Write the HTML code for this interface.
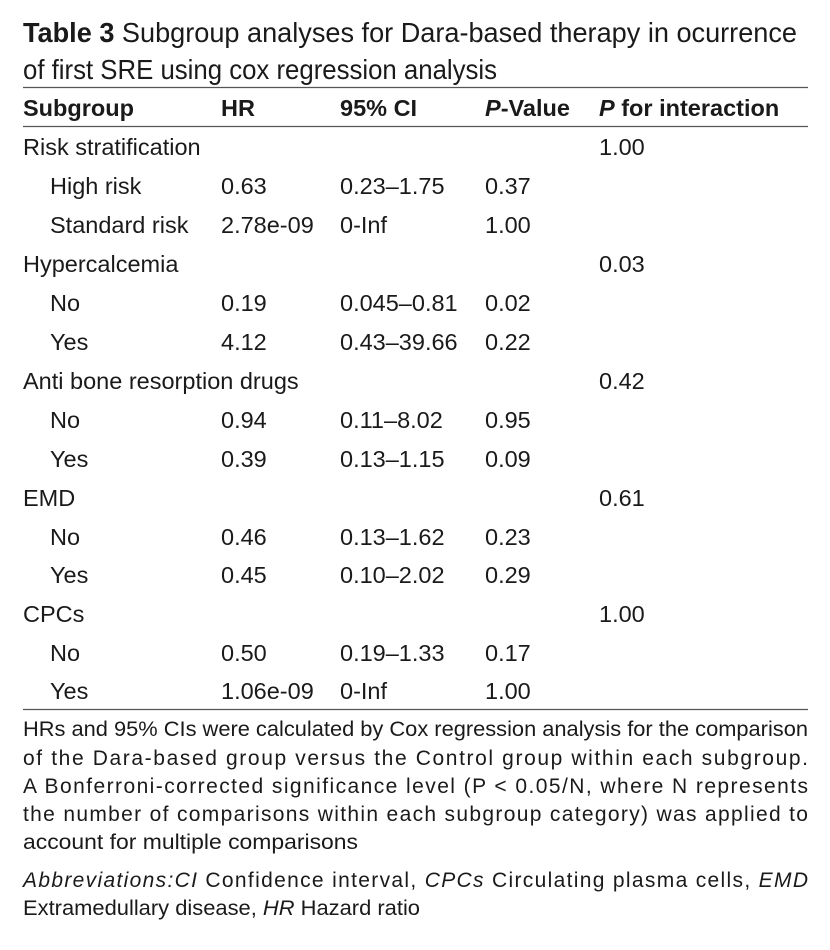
<!DOCTYPE html>
<html><head><meta charset="utf-8"><style>
html,body{margin:0;padding:0;background:#fff;}
svg{display:block;}
text{font-family:"Liberation Sans",sans-serif;fill:#1a1a1a;}
.b{font-weight:bold;}
.r{font-size:23.5px;}
.f{font-size:21px;}
</style></head><body>
<svg width="830" height="950" viewBox="0 0 830 950" xmlns="http://www.w3.org/2000/svg">
<text x="23" y="42" font-size="28" textLength="774" lengthAdjust="spacingAndGlyphs"><tspan class="b">Table 3</tspan>  Subgroup analyses for Dara-based therapy in ocurrence</text>
<text x="23" y="79" font-size="28" textLength="474" lengthAdjust="spacingAndGlyphs">of first SRE using cox regression analysis</text>
<line x1="23" y1="87.5" x2="808" y2="87.5" stroke="#555" stroke-width="1.2"/>
<g class="r b">
<text x="23" y="116">Subgroup</text>
<text x="221" y="116">HR</text>
<text x="340" y="116">95% CI</text>
<text x="485" y="116"><tspan font-style="italic">P</tspan>-Value</text>
<text x="599" y="116"><tspan font-style="italic">P</tspan> for interaction</text>
</g>
<line x1="23" y1="126.5" x2="808" y2="126.5" stroke="#555" stroke-width="1.2"/>
<g class="r">
<text x="23" y="155">Risk stratification</text><text x="599" y="155">1.00</text>
<text x="50" y="194">High risk</text><text x="221" y="194">0.63</text><text x="340" y="194">0.23–1.75</text><text x="485" y="194">0.37</text>
<text x="50" y="233">Standard risk</text><text x="221" y="233">2.78e-09</text><text x="340" y="233">0-Inf</text><text x="485" y="233">1.00</text>
<text x="23" y="272">Hypercalcemia</text><text x="599" y="272">0.03</text>
<text x="50" y="311">No</text><text x="221" y="311">0.19</text><text x="340" y="311">0.045–0.81</text><text x="485" y="311">0.02</text>
<text x="50" y="350">Yes</text><text x="221" y="350">4.12</text><text x="340" y="350">0.43–39.66</text><text x="485" y="350">0.22</text>
<text x="23" y="389">Anti bone resorption drugs</text><text x="599" y="389">0.42</text>
<text x="50" y="428">No</text><text x="221" y="428">0.94</text><text x="340" y="428">0.11–8.02</text><text x="485" y="428">0.95</text>
<text x="50" y="467">Yes</text><text x="221" y="467">0.39</text><text x="340" y="467">0.13–1.15</text><text x="485" y="467">0.09</text>
<text x="23" y="506">EMD</text><text x="599" y="506">0.61</text>
<text x="50" y="545">No</text><text x="221" y="545">0.46</text><text x="340" y="545">0.13–1.62</text><text x="485" y="545">0.23</text>
<text x="50" y="583">Yes</text><text x="221" y="583">0.45</text><text x="340" y="583">0.10–2.02</text><text x="485" y="583">0.29</text>
<text x="23" y="622">CPCs</text><text x="599" y="622">1.00</text>
<text x="50" y="661">No</text><text x="221" y="661">0.50</text><text x="340" y="661">0.19–1.33</text><text x="485" y="661">0.17</text>
<text x="50" y="699">Yes</text><text x="221" y="699">1.06e-09</text><text x="340" y="699">0-Inf</text><text x="485" y="699">1.00</text>
</g>
<line x1="23" y1="709.5" x2="808" y2="709.5" stroke="#555" stroke-width="1.2"/>
<g class="f">
<text x="23" y="736" textLength="785" lengthAdjust="spacingAndGlyphs">HRs and 95% CIs were calculated by Cox regression analysis for the comparison</text>
<text x="23" y="765" textLength="785" lengthAdjust="spacing">of the Dara-based group versus the Control group within each subgroup.</text>
<text x="23" y="793" textLength="785" lengthAdjust="spacing">A Bonferroni-corrected significance level (P &lt; 0.05/N, where N represents</text>
<text x="23" y="821" textLength="785" lengthAdjust="spacing">the number of comparisons within each subgroup category) was applied to</text>
<text x="23" y="849" textLength="335" lengthAdjust="spacingAndGlyphs">account for multiple comparisons</text>
<text x="23" y="887" textLength="785" lengthAdjust="spacing"><tspan font-style="italic">Abbreviations:CI</tspan> Confidence interval, <tspan font-style="italic">CPCs</tspan> Circulating plasma cells, <tspan font-style="italic">EMD</tspan></text>
<text x="23" y="915" textLength="397" lengthAdjust="spacingAndGlyphs">Extramedullary disease, <tspan font-style="italic">HR</tspan> Hazard ratio</text>
</g>
</svg>
</body></html>
